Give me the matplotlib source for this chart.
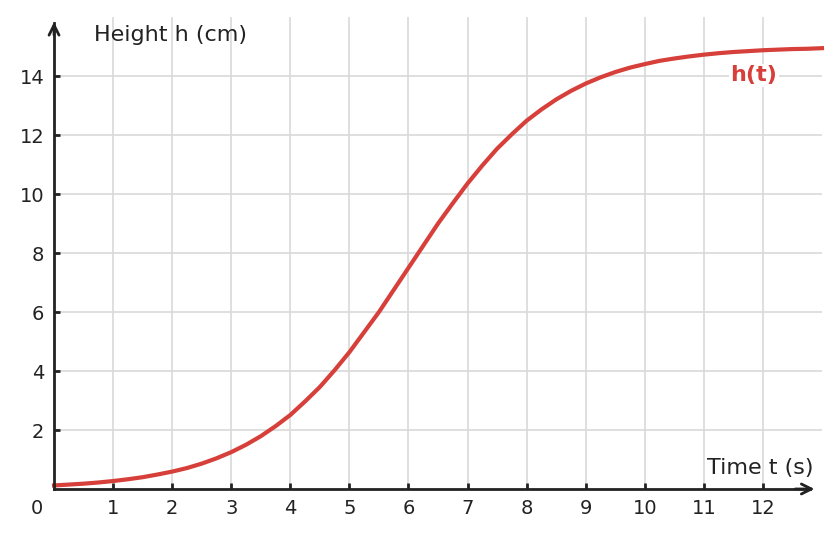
import matplotlib
matplotlib.use('Agg')
import matplotlib.pyplot as plt

plt.rcParams['font.family'] = ['DejaVu Sans']

# values, every quarter second
t = [0, 0.25, 0.5, 0.75, 1, 1.25, 1.5, 1.75, 2, 2.25, 2.5, 2.75, 3, 3.25,
     3.5, 3.75, 4, 4.25, 4.5, 4.75, 5, 5.25, 5.5, 5.75, 6, 6.25, 6.5, 6.75,
     7, 7.25, 7.5, 7.75, 8, 8.25, 8.5, 8.75, 9, 9.25, 9.5, 9.75, 10, 10.25,
     10.5, 10.75, 11, 11.25, 11.5, 11.75, 12, 12.25, 12.5, 12.75, 13]
h = [0.12, 0.15, 0.18, 0.22, 0.27, 0.33, 0.40, 0.49, 0.59, 0.71, 0.86, 1.04,
     1.25, 1.50, 1.79, 2.13, 2.51, 2.97, 3.46, 4.03, 4.64, 5.32, 6.0, 6.75,
     7.5, 8.25, 9.0, 9.69, 10.36, 10.97, 11.54, 12.03, 12.49, 12.87, 13.21,
     13.50, 13.75, 13.96, 14.14, 14.29, 14.41, 14.52, 14.6, 14.67, 14.73,
     14.78, 14.82, 14.85, 14.88, 14.90, 14.92, 14.93, 14.95]
xticks = list(range(1, 13))
yticks = list(range(2, 15, 2))

ink = '#222222'
red = '#d63f3a'

fig = plt.figure(figsize=(8.39, 5.38), dpi=100)
ax = fig.add_axes([0.0644, 0.0911, 0.9153, 0.8769])
ax.set_xlim(0, 13)
ax.set_ylim(0, 16)

ax.set_xticks(xticks)
ax.set_yticks(yticks)
ax.grid(True, color='#d9d9d9', linewidth=1.2)
ax.set_axisbelow(True)
ax.tick_params(direction='in', length=4, width=2, color=ink,
               labelsize=14, labelcolor=ink, pad=7)

for s in ['top', 'right']:
    ax.spines[s].set_visible(False)
for s in ['left', 'bottom']:
    ax.spines[s].set_linewidth(2)
    ax.spines[s].set_color(ink)
    ax.spines[s].set_zorder(4)
ax.spines['bottom'].set_bounds(0, 12.8)
ax.spines['left'].set_bounds(0, 15.8)

# arrow heads
ax.annotate('', xy=(12.92, 0), xytext=(12.5, 0), annotation_clip=False,
            arrowprops=dict(arrowstyle='->', color=ink, lw=2,
                            mutation_scale=18))
ax.annotate('', xy=(0, 15.93), xytext=(0, 15.3), annotation_clip=False,
            arrowprops=dict(arrowstyle='->', color=ink, lw=2,
                            mutation_scale=18))

ax.plot(t, h, color=red, linewidth=3, zorder=3, clip_on=False)

ax.text(0.68, 15.4, 'Height h (cm)', fontsize=16, color=ink, va='center')
ax.text(12.85, 0.7, 'Time t (s)', fontsize=16, color=ink,
        ha='right', va='center')
ax.text(-0.29, -0.66, '0', fontsize=14, color=ink, ha='center',
        va='center', clip_on=False)
ax.text(11.85, 14.03, 'h(t)', fontsize=16, color=red, fontweight='bold',
        ha='center', va='center',
        bbox=dict(facecolor='white', edgecolor='none', pad=1))

plt.savefig('out.png', dpi=100)
